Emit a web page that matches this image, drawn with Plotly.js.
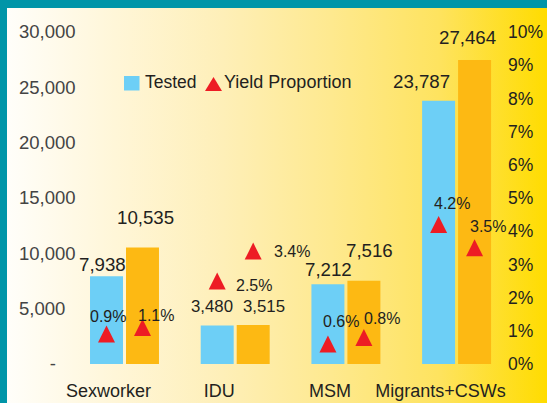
<!DOCTYPE html>
<html><head><meta charset="utf-8">
<script src="https://cdn.plot.ly/plotly-3.0.1.min.js"></script>
<style>
html,body{margin:0;padding:0;}
body{width:547px;height:403px;background:#0095a8;position:relative;overflow:hidden;}
#bg{position:absolute;left:7px;top:8px;width:540px;height:395px;background:linear-gradient(to right,#fffefa 0%,#fff6d8 20%,#feefb8 40%,#fee98f 60%,#fee35f 80%,#ffdc00 100%);}
#chart{position:absolute;left:0;top:0;width:547px;height:403px;}
</style></head><body><div id="bg"></div><div id="chart"></div>
<script>
// ---- data ----
const categories = ['Sexworker', 'IDU', 'MSM', 'Migrants+CSWs'];
const testedBlue = [7938, 3480, 7212, 23787];
const testedOrange = [10535, 3515, 7516, 27464];
const yieldBlue = [0.009, 0.025, 0.006, 0.042];
const yieldOrange = [0.011, 0.034, 0.008, 0.035];
const leftTickVals = [0, 5000, 10000, 15000, 20000, 25000, 30000];
const leftTickText = ['\u00a0\u00a0\u00a0\u00a0\u00a0\u00a0-', '5,000', '10,000', '15,000', '20,000', '25,000', '30,000'];
const rightTickVals = [0, 0.01, 0.02, 0.03, 0.04, 0.05, 0.06, 0.07, 0.08, 0.09, 0.10];
const rightTickText = ['0%', '1%', '2%', '3%', '4%', '5%', '6%', '7%', '8%', '9%', '10%'];
const legendLabels = ['Tested', 'Yield Proportion'];

// ---- style / layout constants ----
const BLUE = '#6dcff6', ORANGE = '#fdb913', RED = '#ed1c24', TXT = '#231f20';
const FONT = "'Liberation Sans', Arial, sans-serif";
const W = 547, H = 403, M = {l: 16, r: 46, t: 18, b: 26};
const PW = W - M.l - M.r, PH = H - M.t - M.b;
const zeroPx = 364, topPx = 32;
const pyPer = (zeroPx - topPx) / 30000;
const yRange = [-(H - M.b - zeroPx) / pyPer, 30000 + (topPx - M.t) / pyPer];
const pctScale = 0.10 / 30000;
const y2Range = yRange.map(v => v * pctScale);
const catPx0 = 124.5, catStep = 110.7;
const xRange = [(M.l - catPx0) / catStep, (W - M.r - catPx0) / catStep];
const bargap = 0.35;
const off = (1 - bargap) / 4;
const idx = categories.map((c, i) => i);

// label offsets in px (style)
const valShiftBlue = [[-4, 12], [-5, 18.5], [0.6, 14.5], [-17, 19]];
const valShiftOrange = [[2.8, 30], [11, 18.4], [6, 30.8], [-6.6, 23]];
const valSize = [18.7, 16.8, 18.7, 18.7];
const pctShiftBlue = [[1.5, 17.4], [36.3, -4], [12.6, 22.4], [12.9, 20.6]];
const pctShiftOrange = [[13.5, 11.5], [39.3, -0.6], [18.6, 18.6], [13.4, 21.8]];

const fmt = v => v.toLocaleString('en-US');
const pct = v => (v * 100).toFixed(1) + '%';

// upward triangle: arrow-down rotated 180deg, pushed back by half its height so it is centred on the value
const triMarker = {symbol: 'arrow-down', angle: 180, size: 17, standoff: 8.5, color: RED, line: {width: 0}};
const traces = [
  {type: 'bar', name: 'Tested', x: idx, y: testedBlue, marker: {color: BLUE}, showlegend: false},
  {type: 'bar', name: 'Tested ', x: idx, y: testedOrange, marker: {color: ORANGE}, showlegend: false},
  {type: 'scatter', mode: 'markers', name: 'Yield Proportion', x: idx.map(i => i - off), y: yieldBlue, yaxis: 'y2',
   marker: triMarker, showlegend: false, cliponaxis: false},
  {type: 'scatter', mode: 'markers', name: 'Yield Proportion ', x: idx.map(i => i + off), y: yieldOrange, yaxis: 'y2',
   marker: triMarker, showlegend: false, cliponaxis: false}
];

const annotations = [];
idx.forEach(i => {
  annotations.push({x: i - off, y: testedBlue[i], xref: 'x', yref: 'y', text: fmt(testedBlue[i]), showarrow: false,
    xshift: valShiftBlue[i][0], yshift: valShiftBlue[i][1], font: {size: valSize[i]}});
  annotations.push({x: i + off, y: testedOrange[i], xref: 'x', yref: 'y', text: fmt(testedOrange[i]), showarrow: false,
    xshift: valShiftOrange[i][0], yshift: valShiftOrange[i][1], font: {size: valSize[i]}});
  annotations.push({x: i - off, y: yieldBlue[i], xref: 'x', yref: 'y2', text: pct(yieldBlue[i]), showarrow: false,
    xshift: pctShiftBlue[i][0], yshift: pctShiftBlue[i][1], font: {size: 16}});
  annotations.push({x: i + off, y: yieldOrange[i], xref: 'x', yref: 'y2', text: pct(yieldOrange[i]), showarrow: false,
    xshift: pctShiftOrange[i][0], yshift: pctShiftOrange[i][1], font: {size: 16}});
});

const px2x = p => (p - M.l) / PW;
const px2y = p => (H - M.b - p) / PH;
annotations.push({x: px2x(143), y: px2y(82), xref: 'paper', yref: 'paper', xanchor: 'left', yanchor: 'middle',
  text: legendLabels[0], showarrow: false, font: {size: 17.5}});
annotations.push({x: px2x(222), y: px2y(82), xref: 'paper', yref: 'paper', xanchor: 'left', yanchor: 'middle',
  text: legendLabels[1], showarrow: false, font: {size: 18}});

const shapes = [
  {type: 'rect', xref: 'paper', yref: 'paper', x0: px2x(124), x1: px2x(139.5), y0: px2y(90.5), y1: px2y(76),
   fillcolor: BLUE, line: {width: 0}},
  {type: 'path', xref: 'paper', yref: 'paper', fillcolor: RED, line: {width: 0},
   path: `M${px2x(205)},${px2y(91)} L${px2x(222)},${px2y(91)} L${px2x(213.5)},${px2y(77)} Z`}
];

const layout = {
  width: W, height: H, margin: M,
  paper_bgcolor: 'rgba(0,0,0,0)', plot_bgcolor: 'rgba(0,0,0,0)',
  font: {family: FONT, size: 18.5, color: TXT},
  barmode: 'group', bargap: bargap, bargroupgap: 3 / 36,
  showlegend: false, hovermode: false,
  xaxis: {range: xRange, tickvals: idx, ticktext: categories, showgrid: false, zeroline: false, showline: false,
    ticks: '', ticklabelshift: -16, ticklabelstandoff: 1, tickfont: {size: 18}, fixedrange: true},
  yaxis: {range: yRange, tickvals: leftTickVals, ticktext: leftTickText, ticklabelposition: 'inside',
    showgrid: false, zeroline: false, showline: false, ticks: '', fixedrange: true},
  yaxis2: {range: y2Range, tickvals: rightTickVals, ticktext: rightTickText, overlaying: 'y', side: 'right', anchor: 'x',
    showgrid: false, zeroline: false, showline: false, ticks: '', ticklabelstandoff: 6, tickfont: {size: 17.5}, fixedrange: true},
  annotations: annotations, shapes: shapes
};

Plotly.newPlot('chart', traces, layout, {staticPlot: true, displayModeBar: false});
</script></body></html>
